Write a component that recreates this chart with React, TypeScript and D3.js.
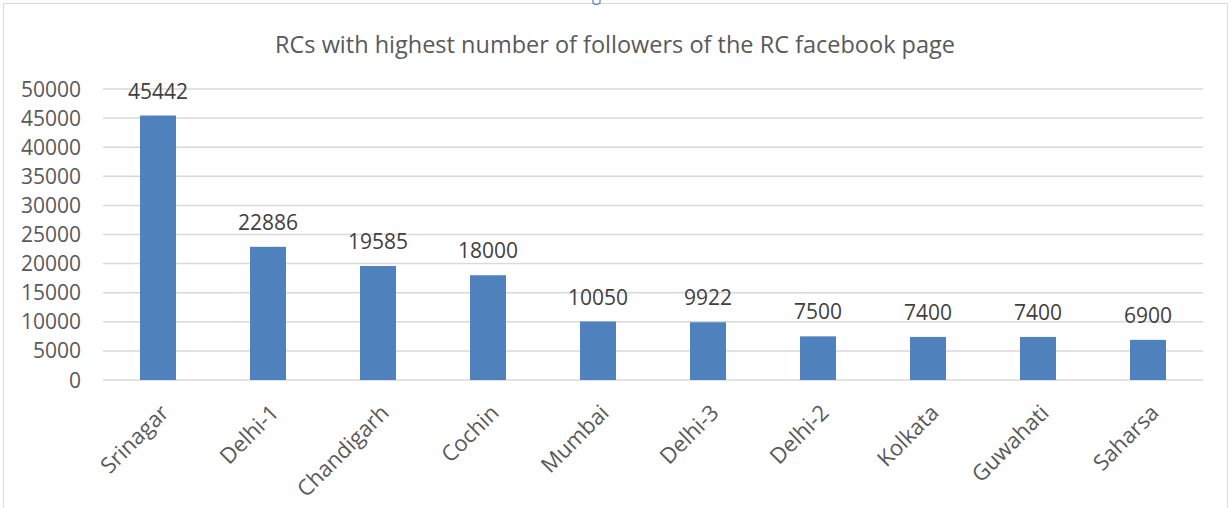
import React from "react";
import * as d3 from "d3";

const categories = ["Srinagar", "Delhi-1", "Chandigarh", "Cochin", "Mumbai", "Delhi-3", "Delhi-2", "Kolkata", "Guwahati", "Saharsa"];
const followers = [45442, 22886, 19585, 18000, 10050, 9922, 7500, 7400, 7400, 6900];
const yTicks = [0, 5000, 10000, 15000, 20000, 25000, 30000, 35000, 40000, 45000, 50000];
const title = "RCs with highest number of followers of the RC facebook page";

const W = 1231;
const H = 508;
const FONT = "'Open Sans', sans-serif";

export default function App() {
  const x = d3.scaleBand<string>().domain(categories).range([103, 1203]).paddingInner(0.673).paddingOuter(0.3365);
  const y = d3.scaleLinear().domain([0, 50000]).range([380, 89]);
  const bw = x.bandwidth();
  return (
    <div style={{ position: "fixed", left: 0, top: 0 }}>
      <svg width={W} height={H} style={{ display: "block", background: "#fff" }}>
        <rect x={3.5} y={3.5} width={1224} height={520} fill="#fff" stroke="#d9d9d9" strokeWidth={1} />
        <path d="M593,0 L593,3 Q596,6 600,3 L600,0" fill="none" stroke="#4f81bd" strokeWidth={1.2} />
        <text x={615} y={53} textAnchor="middle" fontFamily={FONT} fontSize={23.5} fill="#595959">{title}</text>
        {yTicks.map((t) => (
          <g key={t}>
            <line x1={103} x2={1203} y1={y(t)} y2={y(t)} stroke="#d9d9d9" strokeWidth={1.5} />
            <text x={81} y={y(t)} dy="0.36em" textAnchor="end" fontFamily={FONT} fontSize={21} fill="#595959">{t}</text>
          </g>
        ))}
        {categories.map((c, i) => {
          const bx = x(c)!;
          const cx = bx + bw / 2;
          return (
            <g key={c}>
              <rect x={bx} y={y(followers[i])} width={bw} height={y(0) - y(followers[i])} fill="#4f81bd" />
              <text x={cx} y={y(followers[i]) - 17} textAnchor="middle" fontFamily={FONT} fontSize={21} fill="#404040">{followers[i]}</text>
              <text transform={`translate(${cx + 1},${403}) rotate(-45)`} textAnchor="end" dy="0.72em" fontFamily={FONT} fontSize={22} fill="#595959">{c}</text>
            </g>
          );
        })}
      </svg>
    </div>
  );
}
